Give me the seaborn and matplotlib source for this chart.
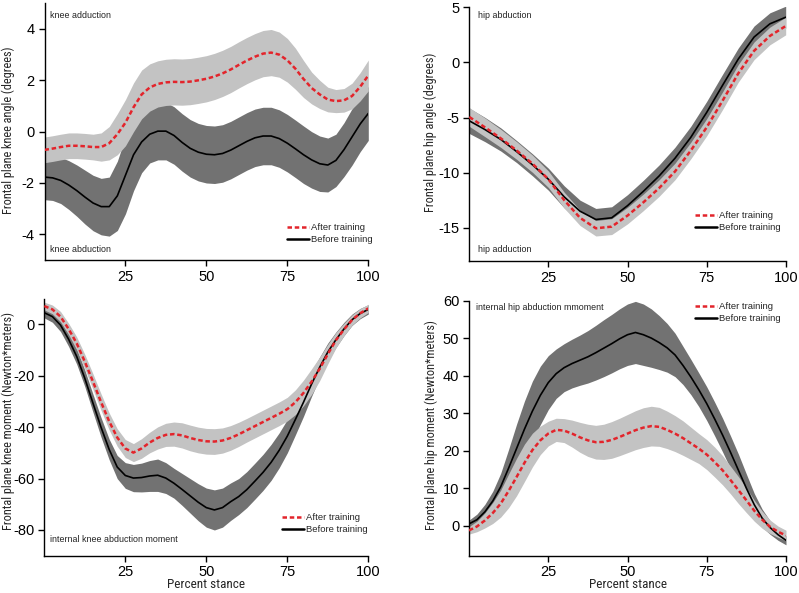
import numpy as np
import pandas as pd
import matplotlib
matplotlib.use("Agg")
import matplotlib.pyplot as plt
import seaborn as sns
from matplotlib.lines import Line2D
from matplotlib import font_manager

# ---------------- data ----------------
stance_x = [0, 2.5, 5, 7.5, 10, 12.5, 15, 17.5, 20, 22.5, 25, 27.5, 30, 32.5, 35, 37.5, 40, 42.5, 45, 47.5,
            50, 52.5, 55, 57.5, 60, 62.5, 65, 67.5, 70, 72.5, 75, 77.5, 80, 82.5, 85, 87.5, 90, 92.5, 95, 97.5, 100]
stance_x5 = [0, 5, 10, 15, 20, 25, 30, 35, 40, 45, 50, 55, 60, 65, 70, 75, 80, 85, 90, 95, 100]

# Panel A: frontal plane knee angle (degrees)
knee_ang_after = [-0.71, -0.66, -0.6, -0.55, -0.55, -0.57, -0.6, -0.6, -0.45, -0.1, 0.35, 0.95, 1.45, 1.72, 1.86,
                  1.92, 1.94, 1.93, 1.95, 2.0, 2.06, 2.15, 2.27, 2.42, 2.6, 2.77, 2.92, 3.04, 3.08, 3.0, 2.78,
                  2.45, 2.05, 1.7, 1.45, 1.25, 1.19, 1.22, 1.39, 1.75, 2.19]
knee_ang_after_sd = [0.5, 0.5, 0.5, 0.5, 0.5, 0.5, 0.5, 0.55, 0.65, 0.8, 0.9, 0.95, 0.95, 0.92, 0.9,
                     0.9, 0.9, 0.9, 0.9, 0.9, 0.9, 0.9, 0.9, 0.9, 0.9, 0.9, 0.9, 0.9, 0.9, 0.88, 0.85,
                     0.8, 0.72, 0.62, 0.55, 0.48, 0.45, 0.46, 0.5, 0.55, 0.6]
knee_ang_before = [-1.77, -1.8, -1.9, -2.08, -2.3, -2.55, -2.78, -2.92, -2.92, -2.5, -1.7, -0.9, -0.4, -0.1, 0.02,
                   0.02, -0.15, -0.42, -0.65, -0.8, -0.88, -0.9, -0.85, -0.72, -0.55, -0.38, -0.24, -0.17, -0.17,
                   -0.27, -0.45, -0.67, -0.9, -1.1, -1.25, -1.3, -1.12, -0.7, -0.2, 0.3, 0.71]
knee_ang_before_sd = [0.88, 0.88, 0.9, 0.95, 1.0, 1.05, 1.08, 1.1, 1.15, 1.35, 1.5, 1.4, 1.2, 1.12, 1.12,
                      1.12, 1.12, 1.12, 1.12, 1.12, 1.12, 1.12, 1.12, 1.12, 1.12, 1.12, 1.12, 1.12, 1.12,
                      1.12, 1.12, 1.12, 1.12, 1.1, 1.08, 1.05, 1.02, 1.05, 1.1, 1.08, 1.05]

# Panel B: frontal plane hip angle (degrees)
hip_ang_after = [-4.95, -5.9, -6.9, -8.0, -9.2, -10.6, -12.5, -14.1, -15.05, -14.9, -13.9, -12.7, -11.4, -9.9,
                 -8.0, -5.9, -3.5, -1.0, 1.05, 2.4, 3.3]
hip_ang_after_sd = [0.85, 0.85, 0.82, 0.8, 0.78, 0.75, 0.72, 0.7, 0.7, 0.72, 0.75, 0.75, 0.75, 0.75, 0.75,
                    0.78, 0.8, 0.8, 0.8, 0.8, 0.8]
hip_ang_before = [-5.3, -6.1, -7.0, -8.1, -9.3, -10.6, -12.2, -13.5, -14.25, -14.1, -13.0, -11.7, -10.3, -8.7,
                  -6.8, -4.55, -2.1, 0.3, 2.3, 3.5, 4.1]
hip_ang_before_sd = [1.15, 1.1, 1.05, 1.0, 1.0, 1.0, 1.0, 1.0, 1.0, 1.0, 1.0, 1.0, 1.0, 1.0, 1.0, 1.0, 1.0,
                     1.0, 1.0, 1.0, 1.0]

# Panel C: frontal plane knee moment (Newton*meters)
knee_mom_after = [7.1, 5.8, 3.0, -1.8, -7.4, -14.5, -22.2, -30.2, -37.7, -44.0, -48.3, -49.9, -48.3, -46.0,
                  -44.2, -43.0, -42.7, -43.2, -44.2, -45.0, -45.5, -45.6, -45.2, -44.2, -42.8, -41.2, -39.6,
                  -38.0, -36.4, -34.8, -33.0, -30.3, -26.7, -22.3, -17.3, -11.6, -6.2, -2.0, 1.7, 4.3, 6.2]
knee_mom_after_sd = [1.5, 1.7, 2.0, 2.2, 2.5, 2.8, 3.0, 3.2, 3.3, 3.4, 3.5, 3.5, 3.8, 4.0, 4.3, 4.5, 4.7,
                     4.9, 5.0, 5.0, 5.0, 5.0, 4.9, 4.8, 4.7, 4.6, 4.6, 4.6, 4.6, 4.6, 4.6, 4.8, 5.0, 5.0,
                     4.6, 3.8, 3.0, 2.4, 2.0, 1.8, 1.6]
knee_mom_before = [4.5, 3.0, -0.3, -5.8, -12.5, -21.0, -30.6, -40.0, -48.6, -55.5, -58.8, -59.8, -59.6, -59.0,
                   -58.7, -59.8, -61.8, -64.2, -66.7, -69.2, -71.3, -72.2, -71.3, -69.0, -67.0, -64.3, -61.0,
                   -57.6, -53.7, -49.0, -43.5, -37.0, -30.3, -23.2, -16.7, -10.8, -6.0, -1.8, 1.8, 4.2, 5.8]
knee_mom_before_sd = [2.0, 2.2, 2.5, 2.8, 3.0, 3.2, 3.5, 3.8, 4.0, 4.5, 5.0, 5.3, 5.6, 6.0, 6.3, 6.0, 5.8,
                      6.2, 6.7, 7.2, 7.6, 7.8, 7.6, 7.3, 7.0, 7.0, 7.0, 7.0, 7.0, 6.8, 6.5, 6.0, 5.5, 4.8,
                      4.0, 3.5, 3.0, 2.6, 2.2, 2.0, 1.8]

# Panel D: frontal plane hip moment (Newton*meters)
hip_mom_after = [-1.25, -0.2, 1.4, 3.4, 5.9, 9.3, 13.0, 16.8, 20.2, 22.8, 24.6, 25.6, 25.4, 24.6, 23.6, 22.8,
                 22.3, 22.4, 22.9, 23.7, 24.6, 25.5, 26.2, 26.6, 26.4, 25.6, 24.6, 23.4, 22.0, 20.6, 19.0,
                 17.0, 14.8, 12.2, 9.5, 6.8, 4.0, 1.6, -0.3, -1.6, -2.6]
hip_mom_after_sd = [1.0, 1.4, 2.0, 2.8, 3.6, 4.5, 5.0, 5.0, 4.5, 3.8, 3.3, 3.1, 3.2, 3.6, 4.0, 4.3, 4.5,
                    4.7, 4.9, 5.0, 5.1, 5.2, 5.3, 5.3, 5.2, 5.0, 4.8, 4.6, 4.3, 4.0, 4.0, 4.0, 3.9, 3.7,
                    3.6, 3.3, 2.8, 2.3, 1.8, 1.5, 1.4]
hip_mom_before = [0.5, 1.6, 3.7, 6.6, 10.4, 15.4, 20.6, 25.8, 30.6, 34.8, 38.2, 40.6, 42.2, 43.3, 44.2, 45.1,
                  46.2, 47.4, 48.6, 49.9, 51.0, 51.6, 51.0, 50.1, 48.9, 47.5, 45.6, 42.8, 39.7, 36.3, 32.6,
                  28.5, 24.2, 19.6, 14.8, 10.0, 5.6, 2.0, -0.5, -2.4, -3.9]
hip_mom_before_sd = [1.0, 1.5, 2.0, 2.6, 3.6, 5.0, 6.5, 7.5, 8.0, 7.8, 7.2, 6.6, 6.4, 6.5, 6.7, 7.0, 7.3,
                     7.6, 7.8, 8.0, 8.2, 8.3, 8.2, 7.8, 7.2, 6.5, 5.8, 5.1, 4.7, 4.5, 4.5, 4.5, 4.5, 4.4,
                     4.3, 3.8, 3.0, 2.4, 1.8, 1.5, 1.2]

x_ticks = [25, 50, 75, 100]
legend_labels = ["After training", "Before training"]
x_label = "Percent stance"

# ---------------- style ----------------
sns.set_theme(style="ticks")
names = {f.name for f in font_manager.fontManager.ttflist}
base_font = "Liberation Sans" if "Liberation Sans" in names else "DejaVu Sans"
narrow_font = None
for cand in ["Liberation Sans Narrow", "Arial Narrow", "Roboto Condensed", "Open Sans Condensed"]:
    if cand in names:
        narrow_font = cand
        break
if narrow_font:
    label_font, ylab_size, xlab_size = narrow_font, 8.8, 9.5
else:
    label_font, ylab_size, xlab_size = base_font, 7.3, 8.0
plt.rcParams["font.family"] = [base_font, "DejaVu Sans"]
plt.rcParams["axes.linewidth"] = 1.0
plt.rcParams["axes.edgecolor"] = "black"

RED = "#e3242b"
LIGHT = "#c3c3c3"
DARK = "#727272"
DASH = (1.8, 1.1)

W, H = 799, 593
fig = plt.figure(figsize=(W / 100, H / 100), dpi=100)


def px_axes(l, t, r, b):
    return fig.add_axes([l / W, 1 - b / H, (r - l) / W, (b - t) / H])


def draw_panel(ax, xs, a_y, a_sd, b_y, b_sd, ylim, yticks, ylabel, ylab_xy,
               notes, leg_xy, xlab_xy=None):
    x = np.asarray(xs, float)
    a_y = np.asarray(a_y, float); a_sd = np.asarray(a_sd, float)
    b_y = np.asarray(b_y, float); b_sd = np.asarray(b_sd, float)
    ax.fill_between(x, b_y - b_sd, b_y + b_sd, color=DARK, lw=0, zorder=1)
    ax.fill_between(x, a_y - a_sd, a_y + a_sd, color=LIGHT, lw=0, zorder=2)
    df = pd.DataFrame({"x": np.concatenate([x, x]),
                       "y": np.concatenate([b_y, a_y]),
                       "group": [legend_labels[1]] * len(x) + [legend_labels[0]] * len(x)})
    sns.lineplot(data=df[df.group == legend_labels[1]], x="x", y="y", ax=ax, color="black",
                 lw=1.2, zorder=3, sort=False, legend=False)
    sns.lineplot(data=df[df.group == legend_labels[0]], x="x", y="y", ax=ax, color=RED,
                 lw=1.8, zorder=4, sort=False, legend=False)
    ax.lines[-1].set_dashes(DASH)
    ax.set_xlim(0, 100)
    ax.set_ylim(*ylim)
    ax.set_xticks(x_ticks)
    ax.set_yticks(yticks)
    ax.set_xticklabels([str(t) for t in x_ticks])
    ax.set_yticklabels([str(t) for t in yticks])
    sns.despine(ax=ax)
    ax.tick_params(axis="both", direction="out", length=4, width=1, labelsize=10.5,
                   pad=3, colors="black")
    ax.set_ylabel(ylabel, fontsize=ylab_size, family=[label_font, "DejaVu Sans"], va="center")
    ax.yaxis.set_label_coords(ylab_xy[0] / W, 1 - ylab_xy[1] / H, transform=fig.transFigure)
    if xlab_xy is not None:
        ax.set_xlabel(x_label, fontsize=xlab_size, family=[label_font, "DejaVu Sans"], va="center")
        ax.xaxis.set_label_coords(xlab_xy[0] / W, 1 - xlab_xy[1] / H, transform=fig.transFigure)
    else:
        ax.set_xlabel("")
    for (tx, ty, s) in notes:
        fig.text(tx / W, 1 - ty / H, s, fontsize=6.4, ha="left", va="center", color="#222222")
    handles = [Line2D([], [], color=RED, lw=1.8, dashes=DASH),
               Line2D([], [], color="black", lw=1.8)]
    ax.legend(handles, legend_labels, loc="upper left",
              bbox_to_anchor=(leg_xy[0] / W, 1 - leg_xy[1] / H), bbox_transform=fig.transFigure,
              frameon=False, fontsize=6.8, handlelength=2.3, handletextpad=0.25,
              borderpad=0, borderaxespad=0, labelspacing=0.35)


ax1 = px_axes(44.5, 3.3, 368.3, 260)
draw_panel(ax1, stance_x, knee_ang_after, knee_ang_after_sd, knee_ang_before, knee_ang_before_sd,
           (-5, 5), [-4, -2, 0, 2, 4], "Frontal plane knee angle (degrees)", (8, 130),
           [(50, 15, "knee adduction"), (50, 249, "knee abduction")], (287, 223))

ax2 = px_axes(469.3, 7.3, 785.7, 260.8)
draw_panel(ax2, stance_x5, hip_ang_after, hip_ang_after_sd, hip_ang_before, hip_ang_before_sd,
           (-18, 5), [-15, -10, -5, 0, 5], "Frontal plane hip angle (degrees)", (430, 132),
           [(478, 15, "hip abduction"), (478, 249, "hip adduction")], (695, 211))

ax3 = px_axes(44.3, 298.6, 368.3, 555.7)
draw_panel(ax3, stance_x, knee_mom_after, knee_mom_after_sd, knee_mom_before, knee_mom_before_sd,
           (-90, 10), [-80, -60, -40, -20, 0], "Frontal plane knee moment (Newton*meters)", (8, 421),
           [(50, 539, "internal knee abduction moment")], (282, 513), xlab_xy=(206, 585))

ax4 = px_axes(469, 301, 786, 555.7)
draw_panel(ax4, stance_x, hip_mom_after, hip_mom_after_sd, hip_mom_before, hip_mom_before_sd,
           (-8, 60), [0, 10, 20, 30, 40, 50, 60], "Frontal plane hip moment (Newton*meters)", (431, 425),
           [(476, 307, "internal hip abduction mmoment")], (695, 302), xlab_xy=(628, 585))

fig.savefig("out.png", dpi=100)
